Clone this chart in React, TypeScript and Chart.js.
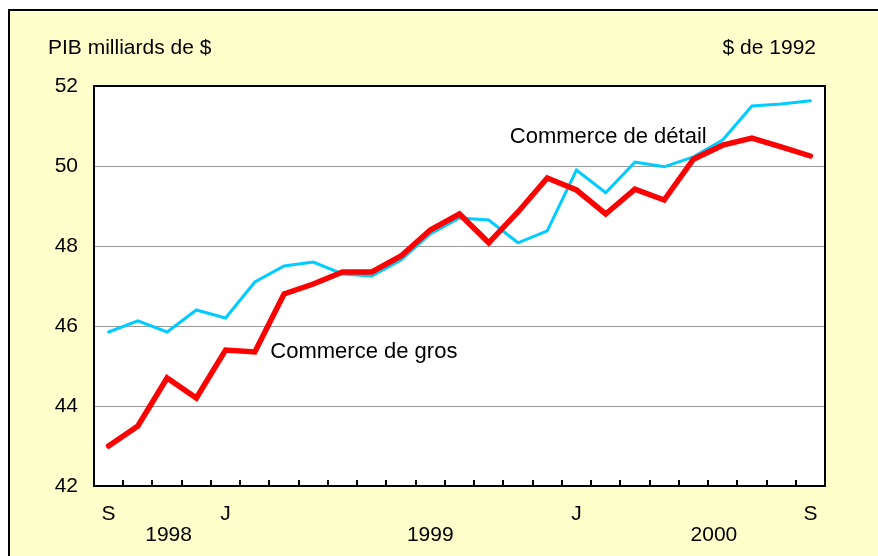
import React, { useEffect, useRef } from 'react';
import { Chart, registerables } from 'chart.js';

Chart.register(...registerables);

const categories = [
  '1998-09', '1998-10', '1998-11', '1998-12',
  '1999-01', '1999-02', '1999-03', '1999-04', '1999-05', '1999-06',
  '1999-07', '1999-08', '1999-09', '1999-10', '1999-11', '1999-12',
  '2000-01', '2000-02', '2000-03', '2000-04', '2000-05', '2000-06',
  '2000-07', '2000-08', '2000-09',
];

const monthTickLabels = [
  'S', '', '', '',
  'J', '', '', '', '', '',
  '', '', '', '', '', '',
  'J', '', '', '', '', '',
  '', '', 'S',
];

const wholesale = [
  43.0, 43.5, 44.7, 44.2, 45.4, 45.35, 46.8, 47.05, 47.35, 47.35, 47.75, 48.4,
  48.8, 48.08, 48.85, 49.7, 49.4, 48.8, 49.42, 49.15, 50.17, 50.52, 50.7, 50.48, 50.25,
];

const retail = [
  45.85, 46.13, 45.85, 46.4, 46.2, 47.1, 47.5, 47.6, 47.3, 47.25, 47.65, 48.3,
  48.7, 48.65, 48.08, 48.38, 49.9, 49.33, 50.1, 49.98, 50.23, 50.65, 51.5, 51.55, 51.63,
];

const yearLabels = ['1998', '1999', '2000'];
const yearPositions = [2.05, 11.0, 20.7];

const seriesLabels = ['Commerce de gros', 'Commerce de détail'];
const seriesLabelX = [5.53, 13.72];
const seriesLabelY = [45.35, 50.72];

const yTitleLeft = 'PIB milliards de $';
const yTitleRight = '$ de 1992';

const FONT = '"Liberation Sans", Arial, Helvetica, sans-serif';

export default function App() {
  const ref = useRef<HTMLCanvasElement>(null);

  useEffect(() => {
    const decor = {
      id: 'decor',
      beforeDraw(chart: any) {
        const { ctx, chartArea: a } = chart;
        ctx.save();
        ctx.fillStyle = '#ffffff';
        ctx.fillRect(a.left, a.top, a.right - a.left, a.bottom - a.top);
        ctx.restore();
      },
      afterDraw(chart: any) {
        const { ctx, chartArea: a } = chart;
        const xs = chart.scales.x;
        const ys = chart.scales.y;
        ctx.save();
        // tick marks between categories, pointing up
        ctx.strokeStyle = '#000';
        ctx.lineWidth = 2;
        ctx.beginPath();
        for (let i = 1; i < categories.length; i++) {
          const x = Math.round((xs.getPixelForValue(i - 1) + xs.getPixelForValue(i)) / 2);
          ctx.moveTo(x, a.bottom);
          ctx.lineTo(x, a.bottom - 6);
        }
        ctx.stroke();
        // plot border
        ctx.strokeRect(a.left, a.top, a.right - a.left, a.bottom - a.top);

        ctx.fillStyle = '#000';
        ctx.font = `21px ${FONT}`;
        ctx.textBaseline = 'middle';
        // years
        ctx.textAlign = 'center';
        yearLabels.forEach((t, i) => {
          ctx.fillText(t, xs.getPixelForValue(yearPositions[i]), a.bottom + 49);
        });
        // top titles
        ctx.textAlign = 'left';
        ctx.fillText(yTitleLeft, 38, 37);
        ctx.textAlign = 'right';
        ctx.fillText(yTitleRight, 806, 37);
        // series labels
        ctx.font = `22px ${FONT}`;
        ctx.textAlign = 'left';
        seriesLabels.forEach((t, i) => {
          ctx.fillText(t, xs.getPixelForValue(seriesLabelX[i]), ys.getPixelForValue(seriesLabelY[i]));
        });
        ctx.restore();
      },
    };

    const chart = new Chart(ref.current!, {
      type: 'line',
      data: {
        labels: categories,
        datasets: [
          {
            label: 'Commerce de gros',
            data: wholesale,
            borderColor: '#ff0000',
            borderWidth: 5.5,
            pointRadius: 0,
            tension: 0,
            borderCapStyle: 'round',
            fill: false,
          },
          {
            label: 'Commerce de détail',
            data: retail,
            borderColor: '#00ccff',
            borderWidth: 3,
            pointRadius: 0,
            tension: 0,
            borderCapStyle: 'round',
            fill: false,
          },
        ],
      },
      options: {
        responsive: false,
        animation: false,
        devicePixelRatio: 1,
        layout: { padding: { left: 0, top: 75, right: 53, bottom: 0 } },
        plugins: { legend: { display: false }, tooltip: { enabled: false }, title: { display: false } },
        scales: {
          x: {
            type: 'category',
            offset: true,
            grid: { display: false, drawTicks: false },
            border: { display: false },
            ticks: {
              autoSkip: false,
              maxRotation: 0,
              minRotation: 0,
              color: '#000',
              font: { family: FONT, size: 21 },
              padding: 16,
              callback: (_v: any, i: number) => monthTickLabels[i],
            },
            afterFit: (s: any) => {
              s.height = 70;
            },
          },
          y: {
            min: 42,
            max: 52,
            ticks: {
              stepSize: 2,
              color: '#000',
              font: { family: FONT, size: 21 },
              padding: 16,
            },
            grid: {
              drawTicks: false,
              lineWidth: 1,
              color: (c: any) =>
                c.tick && (c.tick.value === 42 || c.tick.value === 52) ? 'rgba(0,0,0,0)' : '#999999',
            },
            border: { display: false },
            afterFit: (s: any) => {
              s.width = 84;
            },
          },
        },
      },
      plugins: [decor],
    } as any);
    return () => chart.destroy();
  }, []);

  return (
    <div
      style={{
        position: 'fixed',
        left: 8,
        top: 9,
        width: 870,
        height: 547,
        boxSizing: 'border-box',
        background: '#ffffcc',
        borderTop: '2px solid #000',
        borderLeft: '2px solid #000',
        overflow: 'hidden',
      }}
    >
      <canvas ref={ref} width={868} height={545} style={{ display: 'block' }} />
    </div>
  );
}
